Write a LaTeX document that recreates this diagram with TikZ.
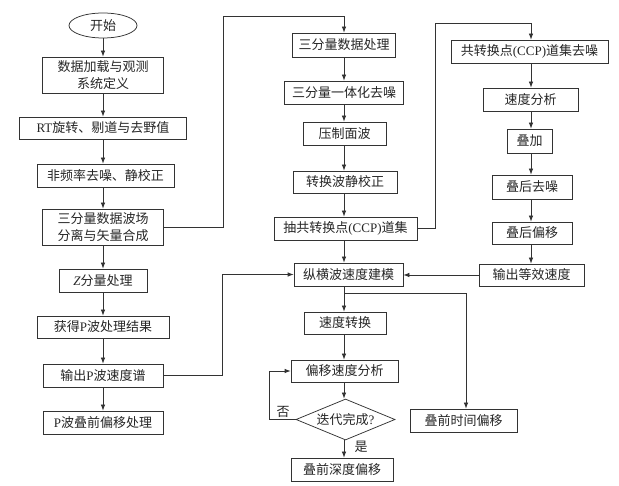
\documentclass[tikz,border=0pt]{standalone}
\usepackage{fontspec}
\setmainfont{Noto Sans CJK SC}
\newfontfamily\lat{Liberation Serif}
\usetikzlibrary{shapes.geometric,arrows.meta}
\begin{document}
\begin{tikzpicture}[x=1pt,y=-1pt,
  every node/.style={font=\fontsize{13}{17}\selectfont, text=black!85},
  box/.style={draw=black!80, line width=0.75pt, rectangle, inner sep=0pt, align=center},
  arr/.style={draw=black!80, line width=0.75pt, -{Latex[length=6pt,width=4.5pt]}},
  ln/.style={draw=black!80, line width=0.75pt}]
\useasboundingbox[fill=white] (0,0) rectangle (619,486);
% left column
\node[draw=black!80, line width=0.75pt, ellipse, minimum width=68pt, minimum height=25pt, inner sep=0pt] (start) at (103,25.5) {开始};
\node[box, minimum width=121pt, minimum height=36pt] (n1) at (103,75) {数据加载与观测\\系统定义};
\node[box, minimum width=167pt, minimum height=22pt] (n2) at (103,128) {{\lat RT}旋转、剔道与去野值};
\node[box, minimum width=137pt, minimum height=23pt] (n3) at (105.5,175.5) {非频率去噪、静校正};
\node[box, minimum width=121pt, minimum height=36pt] (n4) at (103,227) {三分量数据波场\\分离与矢量合成};
\node[box, minimum width=88pt, minimum height=23pt] (n5) at (103,280.5) {{\lat\itshape Z}分量处理};
\node[box, minimum width=132pt, minimum height=22pt] (n6) at (103,327) {获得{\lat P}波处理结果};
\node[box, minimum width=120pt, minimum height=23pt] (n7) at (103,375.5) {输出{\lat P}波速度谱};
\node[box, minimum width=120pt, minimum height=23pt] (n8) at (103,422.5) {{\lat P}波叠前偏移处理};
% middle column
\node[box, minimum width=103pt, minimum height=24pt] (m1) at (344,45) {三分量数据处理};
\node[box, minimum width=119pt, minimum height=23pt] (m2) at (344,92.5) {三分量一体化去噪};
\node[box, minimum width=83pt, minimum height=23pt] (m3) at (344.5,133.5) {压制面波};
\node[box, minimum width=104pt, minimum height=22pt] (m4) at (345,182) {转换波静校正};
\node[box, minimum width=143pt, minimum height=23pt] (m5) at (345.5,228.5) {抽共转换点{\lat (CCP)}道集};
\node[box, minimum width=109pt, minimum height=23pt] (m6) at (348.5,274.5) {纵横波速度建模};
\node[box, minimum width=82pt, minimum height=22pt] (m7) at (345,323) {速度转换};
\node[box, minimum width=107pt, minimum height=22pt] (m8) at (344.5,371) {偏移速度分析};
\node[draw=black!80, line width=0.75pt, diamond, aspect=2.4, minimum width=99pt, minimum height=41pt, inner sep=0pt] (d) at (345.5,419.5) {迭代完成{\lat ?}};
\node[box, minimum width=102pt, minimum height=23pt] (m9) at (342,469.5) {叠前深度偏移};
\node[box, minimum width=107pt, minimum height=23pt] (t) at (463.5,420.5) {叠前时间偏移};
% right column
\node[box, minimum width=157pt, minimum height=23pt] (r1) at (529.5,51.5) {共转换点{\lat (CCP)}道集去噪};
\node[box, minimum width=95pt, minimum height=23pt] (r2) at (530.5,99.5) {速度分析};
\node[box, minimum width=45pt, minimum height=24pt] (r3) at (529.5,141) {叠加};
\node[box, minimum width=80pt, minimum height=24pt] (r4) at (532,187) {叠后去噪};
\node[box, minimum width=80pt, minimum height=22pt] (r5) at (532,233) {叠后偏移};
\node[box, minimum width=105pt, minimum height=22pt] (r6) at (531.5,275) {输出等效速度};
% labels
\node (no) at (283,412) {否};
\node (yes) at (361,447) {是};
% coordinates
\coordinate (c1) at (223,16);
\coordinate (c2) at (435,23);
\coordinate (c3) at (222,274.5);
\coordinate (j) at (344,293);
\coordinate (c4) at (466,293);
\coordinate (c5) at (269,371);
\coordinate (xl) at (103,0);
\coordinate (xm) at (344,0);
\coordinate (xr) at (531,0);
% left arrows
\draw[arr] (start.south -| xl) -- (n1.north -| xl);
\draw[arr] (n1.south -| xl) -- (n2.north -| xl);
\draw[arr] (n2.south -| xl) -- (n3.north -| xl);
\draw[arr] (n3.south -| xl) -- (n4.north -| xl);
\draw[arr] (n4.south -| xl) -- (n5.north -| xl);
\draw[arr] (n5.south -| xl) -- (n6.north -| xl);
\draw[arr] (n6.south -| xl) -- (n7.north -| xl);
\draw[arr] (n7.south -| xl) -- (n8.north -| xl);
% middle arrows
\draw[arr] (m1.south -| xm) -- (m2.north -| xm);
\draw[arr] (m2.south -| xm) -- (m3.north -| xm);
\draw[arr] (m3.south -| xm) -- (m4.north -| xm);
\draw[arr] (m4.south -| xm) -- (m5.north -| xm);
\draw[arr] (m5.south -| xm) -- (m6.north -| xm);
\draw[arr] (m6.south -| xm) -- (m7.north -| xm);
\draw[arr] (m7.south -| xm) -- (m8.north -| xm);
\draw[arr] (m8.south -| xm) -- (d.north -| xm);
\draw[arr] (d.south -| xm) -- (m9.north -| xm);
% right arrows
\draw[arr] (r1.south -| xr) -- (r2.north -| xr);
\draw[arr] (r2.south -| xr) -- (r3.north -| xr);
\draw[arr] (r3.south -| xr) -- (r4.north -| xr);
\draw[arr] (r4.south -| xr) -- (r5.north -| xr);
\draw[arr] (r5.south -| xr) -- (r6.north -| xr);
% cross connectors
\draw[arr] (n4.east) -| (c1) -| (m1.north -| xm);
\draw[arr] (m5.east) -| (c2) -| (r1.north -| xr);
\draw[arr] (n7.east) -| (c3) -- (m6.west);
\draw[arr] (r6.west) -- (m6.east |- r6.west);
\draw[arr] (j) -- (c4) -- (c4 |- t.north);
\draw[arr] (d.west) -| (c5) -- (m8.west);
\end{tikzpicture}
\end{document}
